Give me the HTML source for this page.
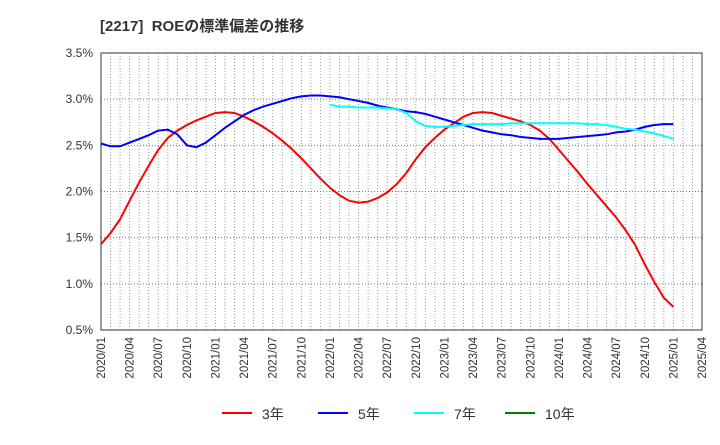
<!DOCTYPE html>
<html><head><meta charset="utf-8"><style>
body{margin:0;background:#fff;}
svg text{font-family:"Liberation Sans","Noto Sans CJK JP",sans-serif;}
</style></head><body>
<svg id="chart" width="720" height="440" xmlns="http://www.w3.org/2000/svg">
<text x="100" y="31" font-size="15" font-weight="bold" fill="#333">[2217]&#160; ROEの標準偏差の推移</text>
<g id="grid"></g>
<g id="axes"></g>
<g id="series"></g>
<g id="legend"></g>
</svg>
<script>
const yTicks = [0.5,1.0,1.5,2.0,2.5,3.0,3.5];
const xTickLabels = ["2020/01","2020/04","2020/07","2020/10","2021/01","2021/04","2021/07","2021/10","2022/01","2022/04","2022/07","2022/10","2023/01","2023/04","2023/07","2023/10","2024/01","2024/04","2024/07","2024/10","2025/01","2025/04"];
const s3 = [1.43,1.55,1.70,1.90,2.10,2.28,2.45,2.58,2.66,2.72,2.77,2.81,2.85,2.86,2.85,2.81,2.76,2.70,2.63,2.55,2.46,2.36,2.25,2.14,2.04,1.96,1.90,1.88,1.89,1.93,1.99,2.08,2.20,2.35,2.48,2.58,2.67,2.74,2.81,2.85,2.86,2.85,2.82,2.79,2.76,2.72,2.66,2.57,2.45,2.33,2.21,2.08,1.96,1.84,1.72,1.58,1.42,1.21,1.02,0.85,0.75];
const s5 = [2.52,2.49,2.49,2.53,2.57,2.61,2.66,2.67,2.62,2.50,2.48,2.53,2.61,2.69,2.76,2.83,2.88,2.92,2.95,2.98,3.01,3.03,3.04,3.04,3.03,3.02,3.00,2.98,2.96,2.93,2.91,2.89,2.87,2.86,2.84,2.81,2.78,2.75,2.72,2.69,2.66,2.64,2.62,2.61,2.59,2.58,2.57,2.57,2.57,2.58,2.59,2.60,2.61,2.62,2.64,2.65,2.67,2.70,2.72,2.73,2.73];
const s7start = 24;
const s7 = [2.94,2.92,2.92,2.91,2.91,2.91,2.90,2.89,2.85,2.76,2.71,2.70,2.70,2.71,2.72,2.73,2.73,2.73,2.73,2.74,2.74,2.74,2.74,2.74,2.74,2.74,2.74,2.73,2.73,2.72,2.70,2.68,2.67,2.65,2.63,2.60,2.57];
const s10 = [];
const X0=101,X1=702,Y0=53,Y1=330,NM=63;
const xs=i=>X0+(X1-X0)*i/NM;
const ys=v=>Y1-(v-0.5)/3*(Y1-Y0);
const NS="http://www.w3.org/2000/svg";
function mk(t,a,p){const e=document.createElementNS(NS,t);for(const k in a)e.setAttribute(k,a[k]);p.appendChild(e);return e;}
const grid=document.getElementById('grid'),axes=document.getElementById('axes'),ser=document.getElementById('series'),leg=document.getElementById('legend');
for(let i=1;i<NM;i++){const l=mk('line',{x1:xs(i),x2:xs(i),y1:Y0,y2:Y1,stroke:'#999','stroke-dasharray':'1,2','stroke-width':1},grid);

}
yTicks.forEach(v=>{const l=mk('line',{x1:X0,x2:X1,y1:ys(v),y2:ys(v),stroke:'#777','stroke-dasharray':'1,2','stroke-width':1},grid);


const t=mk('text',{x:X0-8,y:ys(v)+4,'text-anchor':'end','font-size':12,fill:'#333'},axes);t.textContent=v.toFixed(1)+'%';

});
const fr=mk('rect',{x:X0,y:Y0,width:X1-X0,height:Y1-Y0,fill:'none',stroke:'#333','stroke-width':1},axes);


xTickLabels.forEach((s,i)=>{const x=xs(i*3);const t=mk('text',{x:0,y:0,transform:`translate(${x+4},${Y1+7}) rotate(-90)`,'text-anchor':'end','font-size':11.5,fill:'#333'},axes);t.textContent=s;

});
function line(arr,start,color,name){if(!arr.length)return;const d=arr.map((v,i)=>(i?'L':'M')+xs(start+i).toFixed(1)+','+ys(v).toFixed(1)).join('');
const p=mk('path',{d:d,fill:'none',stroke:color,'stroke-width':2},ser);

}
line(s3,0,'#ff0000','series-3y');
line(s5,0,'#0000ff','series-5y');
line(s7,s7start,'#00ffff','series-7y');
line(s10,0,'#008000','series-10y');
const L=[['3年','#ff0000',222],['5年','#0000ff',318],['7年','#00ffff',414],['10年','#008000',505]];
L.forEach(e=>{const g=mk('g',{},leg);


mk('line',{x1:e[2],x2:e[2]+30,y1:413,y2:413,stroke:e[1],'stroke-width':2},g);
const t=mk('text',{x:e[2]+40,y:419,'font-size':14,fill:'#333'},g);t.textContent=e[0];});
</script>
</body></html>
